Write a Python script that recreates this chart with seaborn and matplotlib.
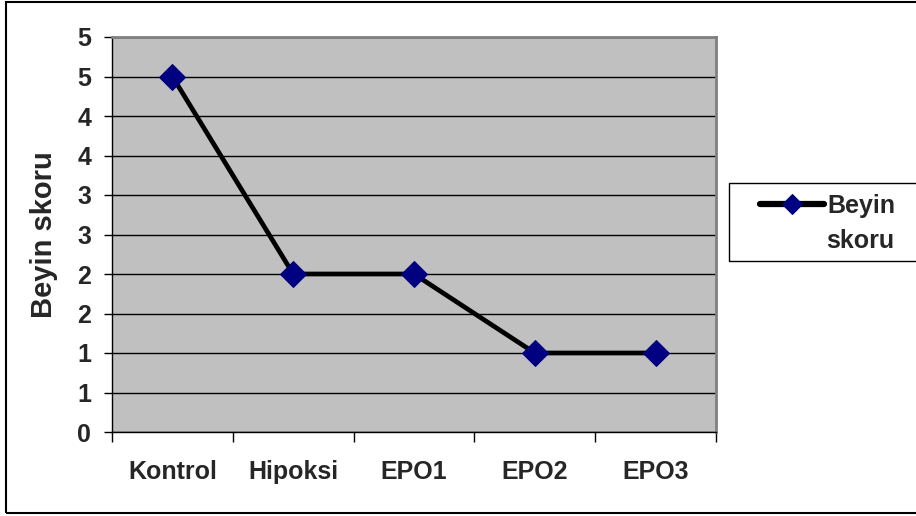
import matplotlib
matplotlib.use("Agg")
import matplotlib.pyplot as plt
from matplotlib.patches import Rectangle
from matplotlib.ticker import MultipleLocator, FuncFormatter
import numpy as np
import pandas as pd
import seaborn as sns

groups = ["Kontrol", "Hipoksi", "EPO1", "EPO2", "EPO3"]
scores = [4.5, 2.0, 2.0, 1.0, 1.0]
series_name = "Beyin skoru"

df = pd.DataFrame({"grup": groups, "skor": scores})

sns.set_style("white")
plt.rcParams["font.family"] = ["Liberation Sans", "DejaVu Sans"]
plt.rcParams["font.weight"] = "bold"

W, H = 916, 516
fig = plt.figure(figsize=(W / 100, H / 100), dpi=100)
ax = fig.add_axes([112 / W, 1 - 432 / H, (716 - 112) / W, (432 - 37) / H])
ax.set_facecolor("#C0C0C0")

legend_words = series_name.split()
sns.lineplot(data=df, x="grup", y="skor", ax=ax, sort=False,
             color="black", linewidth=3.4, marker="D", markersize=13,
             markerfacecolor="#000080", markeredgecolor="#000080",
             label=legend_words[0], zorder=3)

# y axis: steps of 0.5, labels rounded to whole numbers (half away from zero)
ax.set_ylim(0, 5)
ax.yaxis.set_major_locator(MultipleLocator(0.5))
ax.yaxis.set_major_formatter(FuncFormatter(lambda v, p: f"{int(np.floor(v + 0.5 + 1e-9))}"))
ax.grid(axis="y", color="black", linewidth=1, zorder=1)
ax.set_axisbelow(True)

# x axis: tick marks on category boundaries, labels at category centres
ax.set_xlim(-0.5, len(groups) - 0.5)
ax.set_xticks(np.arange(-0.5, len(groups), 1.0))
ax.set_xticklabels([])
ax.set_xticks(range(len(groups)), minor=True)
ax.set_xticklabels(groups, minor=True)
ax.tick_params(axis="x", which="major", direction="out", length=7, width=1, color="black")
ax.tick_params(axis="x", which="minor", length=0, pad=20, labelsize=18)
ax.tick_params(axis="y", direction="out", length=6, width=1, color="black", pad=9, labelsize=18)
ax.tick_params(left=True, bottom=True)

ax.set_xlabel("")
ax.set_ylabel(series_name, fontsize=21, fontweight="bold", labelpad=14)

for side in ("left", "bottom"):
    ax.spines[side].set_color("black")
    ax.spines[side].set_linewidth(1)
for side in ("top", "right"):
    ax.spines[side].set_color("#808080")
    ax.spines[side].set_linewidth(2)

# legend: first word beside the handle, second word on the line below
leg = ax.legend(loc="center left", bbox_to_anchor=(760 / W, 1 - 206 / H),
                bbox_transform=fig.transFigure, frameon=False,
                fontsize=18, handlelength=2.55, handletextpad=0.15,
                borderpad=0, borderaxespad=0)
for t in leg.get_texts():
    t.set_fontweight("bold")
for h in leg.legend_handles:
    h.set_markersize(10)
    h.set_linewidth(4.5)
fig.text(826 / W, 1 - 241 / H, legend_words[1], fontsize=18, fontweight="bold",
         ha="left", va="center")

# legend box, running past the right edge
fig.patches.append(Rectangle((729 / W, 1 - 261 / H), 220 / W, 78 / H, transform=fig.transFigure,
                             fill=False, edgecolor="black", linewidth=1, clip_on=False))

# outer chart frame
fig.patches.append(Rectangle((6 / W, 3 / H), 1.2, 1 - 5 / H, transform=fig.transFigure,
                             fill=False, edgecolor="black", linewidth=1.5, clip_on=False))

fig.savefig("out.png", dpi=100)
